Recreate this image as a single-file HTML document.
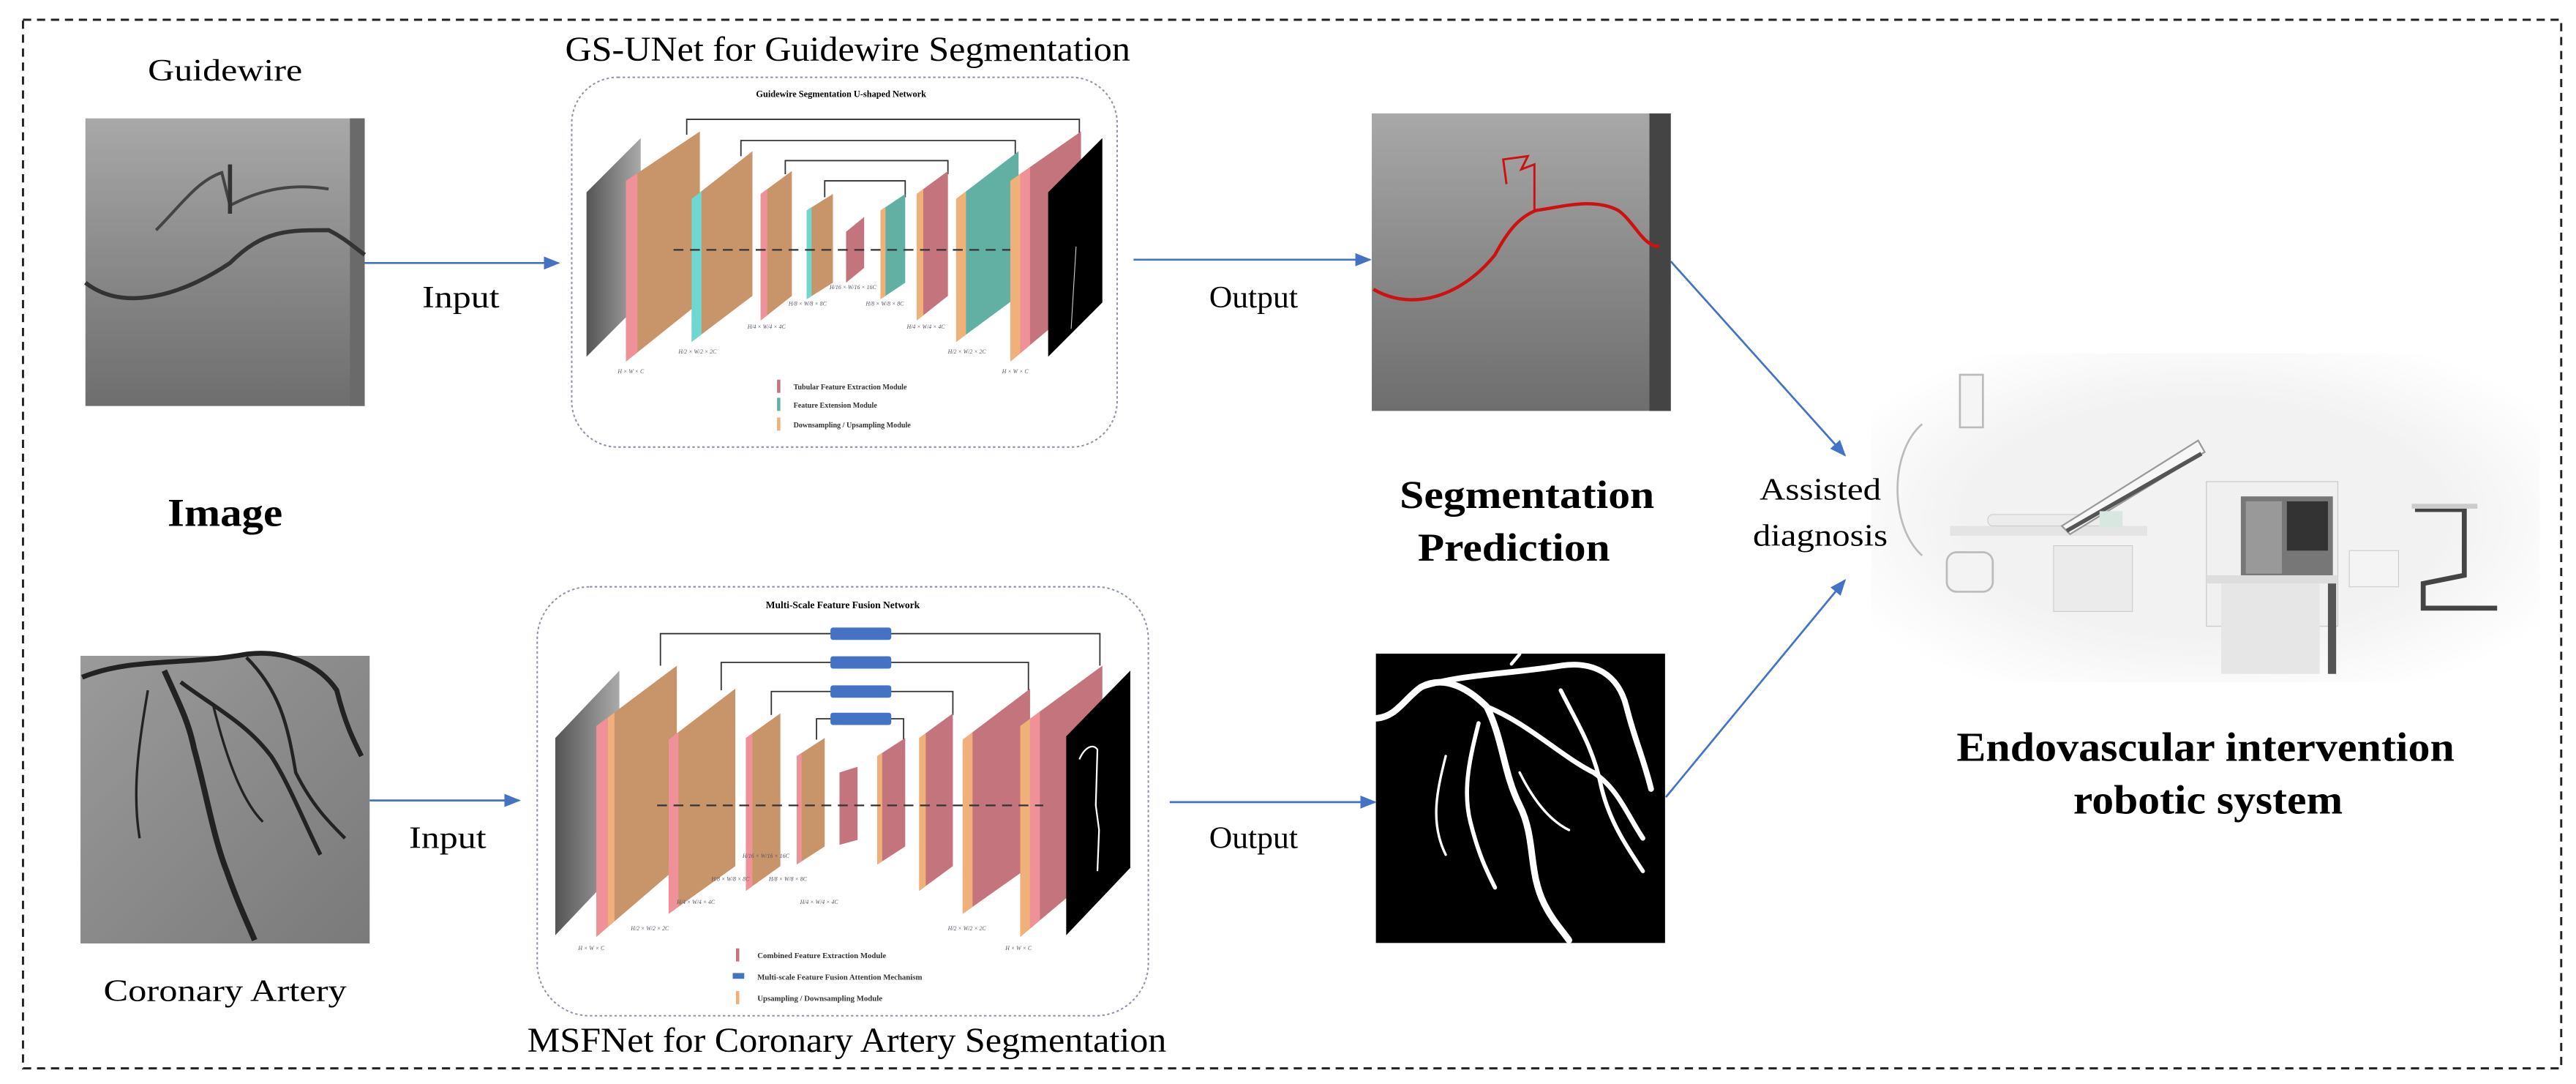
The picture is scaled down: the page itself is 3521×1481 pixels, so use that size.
<!DOCTYPE html>
<html><head><meta charset="utf-8"><style>
html,body{margin:0;padding:0;background:#fff;}
svg{display:block;}
text{font-family:"Liberation Serif",serif;}
</style></head><body>
<svg width="3521" height="1481" viewBox="0 0 1568 659.5" xmlns="http://www.w3.org/2000/svg">
<defs>
<marker id="ar" markerWidth="10" markerHeight="8" refX="9" refY="4" orient="auto" markerUnits="userSpaceOnUse"><path d="M0,0 L10,4 L0,8 z" fill="#4472c4"/></marker>
<linearGradient id="gw" x1="0" y1="0" x2="0" y2="1"><stop offset="0" stop-color="#a8a8a8"/><stop offset="0.5" stop-color="#8a8a8a"/><stop offset="1" stop-color="#6e6e6e"/></linearGradient>
<linearGradient id="ca" x1="0" y1="0" x2="1" y2="1"><stop offset="0" stop-color="#9a9a9a"/><stop offset="1" stop-color="#7a7a7a"/></linearGradient>
<radialGradient id="rb" cx="0.5" cy="0.5" r="0.6"><stop offset="0.6" stop-color="#f2f2f2"/><stop offset="1" stop-color="#ffffff"/></radialGradient>
<linearGradient id="inimg" x1="0" y1="0" x2="1" y2="0"><stop offset="0" stop-color="#555"/><stop offset="1" stop-color="#aaa"/></linearGradient>
</defs>

<rect x="14" y="12" width="1545" height="638" fill="none" stroke="#222" stroke-width="1.3" stroke-dasharray="5,3.5"/>

<text x="90" y="49" font-size="19" textLength="94" lengthAdjust="spacingAndGlyphs">Guidewire</text>
<text x="102" y="320" font-size="24" font-weight="bold" textLength="70" lengthAdjust="spacingAndGlyphs">Image</text>
<text x="63" y="609" font-size="19" textLength="148" lengthAdjust="spacingAndGlyphs">Coronary Artery</text>

<rect x="52" y="72" width="170" height="175" fill="url(#gw)"/>
<rect x="213" y="72" width="9" height="175" fill="#6a6a6a"/>
<path d="M52,172 C75,190 110,180 140,160 C160,140 175,140 200,140 C210,145 215,150 222,155" stroke="#333" stroke-width="2.5" fill="none"/>
<path d="M95,140 C110,125 120,110 135,105 L140,125 C150,120 170,110 200,115" stroke="#444" stroke-width="1.8" fill="none"/>
<path d="M140,100 L140,130" stroke="#333" stroke-width="2.5"/>

<rect x="49" y="399" width="176" height="175" fill="url(#ca)"/>
<g stroke="#222" fill="none">
<path d="M50,412 C80,400 110,405 150,398 C175,395 195,405 205,420 C210,440 215,450 220,460" stroke-width="3"/>
<path d="M100,408 C110,430 115,440 118,455 C125,480 130,510 138,530 C145,550 150,560 155,572" stroke-width="3.5"/>
<path d="M110,415 C130,430 150,440 165,460 C175,475 185,500 195,520" stroke-width="2.5"/>
<path d="M150,400 C170,420 175,440 180,470 C190,490 200,500 210,510" stroke-width="2"/>
<path d="M90,420 C85,450 80,480 85,510" stroke-width="1.5"/>
<path d="M130,430 C140,470 150,490 160,500" stroke-width="1.5"/>
</g>

<g stroke="#4472c4" stroke-width="1.2" fill="none">
<line x1="222" y1="160" x2="340" y2="160" marker-end="url(#ar)"/>
<line x1="225" y1="487" x2="316" y2="487" marker-end="url(#ar)"/>
<line x1="690" y1="158" x2="834" y2="158" marker-end="url(#ar)"/>
<line x1="712" y1="488" x2="837" y2="488" marker-end="url(#ar)"/>
<line x1="1017" y1="159" x2="1123" y2="277" marker-end="url(#ar)"/>
<line x1="1014" y1="485" x2="1123" y2="353" marker-end="url(#ar)"/>
</g>
<text x="257" y="187" font-size="19" textLength="47" lengthAdjust="spacingAndGlyphs">Input</text>
<text x="249" y="516" font-size="19" textLength="47" lengthAdjust="spacingAndGlyphs">Input</text>
<text x="736" y="187" font-size="19" textLength="54" lengthAdjust="spacingAndGlyphs">Output</text>
<text x="736" y="516" font-size="19" textLength="54" lengthAdjust="spacingAndGlyphs">Output</text>

<text x="344" y="37" font-size="21" textLength="344" lengthAdjust="spacingAndGlyphs">GS-UNet for Guidewire Segmentation</text>
<text x="321" y="640" font-size="21" textLength="389" lengthAdjust="spacingAndGlyphs">MSFNet for Coronary Artery Segmentation</text>

<rect x="348" y="47" width="332" height="225" rx="28" fill="none" stroke="#8a93a8" stroke-width="0.9" stroke-dasharray="1.5,1.5"/>
<text x="512" y="59" font-size="5.5" font-weight="bold" text-anchor="middle">Guidewire Segmentation U-shaped Network</text>
<g stroke="#333" stroke-width="0.8" fill="none">
<path d="M418,82 V72.6 H657 V82"/>
<path d="M451,95 V85.5 H618 V95"/>
<path d="M478,106 V97.7 H577 V106"/>
<path d="M502,120 V110 H551 V120"/>
</g>
<polygon points="357,117 390,84 390,184 357,217" fill="url(#inimg)"/>
<polygon points="381,110 426,80 426,184 381,220" fill="#c8946a"/>
<polygon points="381,110 388,105.3 388,214.4 381,220" fill="#ef9199"/>
<polygon points="421,121 458,92 458,180 421,208" fill="#c8946a"/>
<polygon points="421,121 427,116.3 427,203.5 421,208" fill="#6ed8d0"/>
<polygon points="463,118 482,104 482,180 463,195" fill="#c8946a"/>
<polygon points="463,118 467,115 467,191.8 463,195" fill="#ef9199"/>
<polygon points="491,128 507,118 507,172 491,182" fill="#c8946a"/>
<polygon points="491,128 494,126 494,180 491,182" fill="#6ed8d0"/>
<polygon points="515,141 526,132 526,163 515,172" fill="#c4747c"/>
<polygon points="536,128 551,118 551,172 536,182" fill="#62b0a4"/>
<polygon points="536,128 539,126 539,180 536,182" fill="#f0b07a"/>
<polygon points="558,118 577,104 577,180 558,195" fill="#c4747c"/>
<polygon points="558,118 562,115 562,191.8 558,195" fill="#f0b07a"/>
<polygon points="582,121 620,92 620,180 582,208" fill="#62b0a4"/>
<polygon points="582,121 588,116.4 588,203.6 582,208" fill="#f0b07a"/>
<polygon points="615,110 658,80 658,184 615,220" fill="#c4747c"/>
<polygon points="615,110 621,105.8 621,215 615,220" fill="#f0b07a"/>
<polygon points="621,105.8 627,101.6 627,210 621,215" fill="#ef9199"/>
<polygon points="638,117 671,84 671,184 638,217" fill="#000"/>
<path d="M652,200 L655,150" stroke="#ccc" stroke-width="0.5"/>
<line x1="410" y1="152" x2="615" y2="152" stroke="#333" stroke-width="1" stroke-dasharray="6,4"/>
<g font-size="3.5" fill="#556" font-style="italic">
<text x="376" y="227">H × W × C</text>
<text x="413" y="215">H/2 × W/2 × 2C</text>
<text x="455" y="200">H/4 × W/4 × 4C</text>
<text x="480" y="186">H/8 × W/8 × 8C</text>
<text x="505" y="176">H/16 × W/16 × 16C</text>
<text x="527" y="186">H/8 × W/8 × 8C</text>
<text x="552" y="200">H/4 × W/4 × 4C</text>
<text x="577" y="215">H/2 × W/2 × 2C</text>
<text x="610" y="227">H × W × C</text>
</g>
<rect x="473" y="231" width="2" height="8" fill="#c4747c"/>
<rect x="473" y="242" width="2" height="8" fill="#62b0a4"/>
<rect x="473" y="254" width="2" height="8" fill="#f0b07a"/>
<g font-size="4.5" font-weight="bold" fill="#333">
<text x="483" y="237">Tubular Feature Extraction Module</text>
<text x="483" y="248">Feature Extension Module</text>
<text x="483" y="260">Downsampling / Upsampling Module</text>
</g>

<rect x="327" y="357" width="372" height="261" rx="32" fill="none" stroke="#8a93a8" stroke-width="0.9" stroke-dasharray="1.5,1.5"/>
<text x="513" y="370" font-size="6" font-weight="bold" text-anchor="middle">Multi-Scale Feature Fusion Network</text>
<g stroke="#333" stroke-width="0.8" fill="none">
<path d="M402,405 V385.5 H669.5 V405"/>
<path d="M439,420 V403 H626 V420"/>
<path d="M469.5,435 V420.7 H580 V435"/>
<path d="M497,450 V437.3 H550 V450"/>
</g>
<g fill="#4472c4">
<rect x="505.5" y="381.8" width="37" height="7.5" rx="1.5"/>
<rect x="505.5" y="399.3" width="37" height="7.5" rx="1.5"/>
<rect x="505.5" y="417" width="37" height="7.5" rx="1.5"/>
<rect x="505.5" y="433.6" width="37" height="7.5" rx="1.5"/>
</g>
<polygon points="338,449 377,408 377,528 338,569" fill="url(#inimg)"/>
<polygon points="363,441.7 412,405 412,528 363,570" fill="#c8946a"/>
<polygon points="363,441.7 370,436.5 370,564 363,570" fill="#ef9199"/>
<polygon points="370,436.5 374,433.5 374,560.6 370,564" fill="#f0b07a"/>
<polygon points="407,450 447.6,419 447.6,527 407,556" fill="#c8946a"/>
<polygon points="407,450 413,445.4 413,551.7 407,556" fill="#ef9199"/>
<polygon points="454,449 475,434 475,527 454,542" fill="#c8946a"/>
<polygon points="454,449 458,446.1 458,539.1 454,542" fill="#ef9199"/>
<polygon points="485,460 502,449 502,515 485,526" fill="#c8946a"/>
<polygon points="485,460 488,458 488,524 485,526" fill="#ef9199"/>
<polygon points="511,470 522,466.5 522,511 511,514" fill="#c4747c"/>
<polygon points="534,460 551,449 551,515 534,526" fill="#c4747c"/>
<polygon points="534,460 537,458 537,524 534,526" fill="#f0b07a"/>
<polygon points="559.5,449 580,434 580,527 559.5,542" fill="#c4747c"/>
<polygon points="559.5,449 563.5,446.1 563.5,539.1 559.5,542" fill="#f0b07a"/>
<polygon points="586,450 627,419 627,527 586,556" fill="#c4747c"/>
<polygon points="586,450 592,445.4 592,551.7 586,556" fill="#f0b07a"/>
<polygon points="621,441.7 671,405 671,528 621,570" fill="#c4747c"/>
<polygon points="621,441.7 627,437.3 627,565 621,570" fill="#f0b07a"/>
<polygon points="627,437.3 633,432.9 633,560 627,565" fill="#ef9199"/>
<polygon points="649,448 688,408 688,528 649,569" fill="#000"/>
<path d="M657,462 C660,455 665,452 668,456 L667,490 L669,505 L668,530" stroke="#fff" stroke-width="1" fill="none"/>
<line x1="400" y1="490" x2="635" y2="490" stroke="#333" stroke-width="1" stroke-dasharray="6,4"/>
<g font-size="3.5" fill="#556" font-style="italic">
<text x="352" y="578">H × W × C</text>
<text x="384" y="566">H/2 × W/2 × 2C</text>
<text x="412" y="550">H/4 × W/4 × 4C</text>
<text x="433" y="536">H/8 × W/8 × 8C</text>
<text x="452" y="522">H/16 × W/16 × 16C</text>
<text x="468" y="536">H/8 × W/8 × 8C</text>
<text x="487" y="550">H/4 × W/4 × 4C</text>
<text x="577" y="566">H/2 × W/2 × 2C</text>
<text x="612" y="578">H × W × C</text>
</g>
<rect x="448" y="577" width="2" height="8" fill="#c4747c"/>
<rect x="446" y="592" width="7" height="3.5" fill="#4472c4"/>
<rect x="448" y="603" width="2" height="8" fill="#f0b07a"/>
<g font-size="4.8" font-weight="bold" fill="#333">
<text x="461" y="583">Combined Feature Extraction Module</text>
<text x="461" y="596">Multi-scale Feature Fusion Attention Mechanism</text>
<text x="461" y="609">Upsampling / Downsampling Module</text>
</g>

<rect x="835" y="69" width="182" height="181" fill="url(#gw)"/>
<rect x="1004" y="69" width="13" height="181" fill="#444"/>
<path d="M836,176 C860,190 890,180 910,155 C918,140 925,132 935,128 C950,126 970,120 985,128 C995,135 1000,150 1010,150" stroke="#d01010" stroke-width="2" fill="none"/>
<path d="M934,128 L934,100 L926,103 L930,95 L915,97 L917,112" stroke="#d01010" stroke-width="1.3" fill="none"/>
<text x="852" y="309" font-size="24" font-weight="bold" textLength="155" lengthAdjust="spacingAndGlyphs">Segmentation</text>
<text x="863" y="341" font-size="24" font-weight="bold" textLength="117" lengthAdjust="spacingAndGlyphs">Prediction</text>

<rect x="837.5" y="397.7" width="176" height="176" fill="#000"/>
<g stroke="#fff" fill="none" stroke-linecap="round">
<path d="M838,437 C850,436 855,425 865,418 C880,410 895,420 905,430 C915,450 915,470 925,490 C935,510 930,530 940,550 C945,560 950,565 955,572" stroke-width="4"/>
<path d="M865,418 C890,410 920,410 950,405 C970,402 985,410 990,430 C995,450 1000,460 1005,480" stroke-width="3.5"/>
<path d="M905,430 C930,440 950,460 970,470 C985,480 990,495 1000,510" stroke-width="3"/>
<path d="M900,440 C895,460 890,480 895,500 C900,520 905,530 910,540" stroke-width="2.5"/>
<path d="M950,420 C960,440 970,455 975,480 C980,500 990,515 1000,530" stroke-width="2.5"/>
<path d="M880,460 C875,480 870,500 880,520" stroke-width="1.5"/>
<path d="M925,470 C935,490 945,500 955,505" stroke-width="1.5"/>
<path d="M920,404 L925,398" stroke-width="2"/>
</g>

<rect x="1139" y="215" width="407" height="200" fill="url(#rb)"/>
<g fill="none" stroke="#bbb" stroke-width="1.2">
<path d="M1170,258 C1150,275 1150,320 1170,338"/>
<rect x="1193" y="228" width="14" height="32" fill="#f5f5f5"/>
<rect x="1185" y="336" width="28" height="24" rx="6" fill="#f3f3f3"/>
</g>
<rect x="1187" y="320" width="120" height="6" fill="#e4e4e4"/>
<rect x="1210" y="313" width="70" height="7" rx="3" fill="#ececec" stroke="#ccc" stroke-width="0.5"/>
<polygon points="1255,320 1338,268 1342,275 1260,325" fill="#f7f7f7" stroke="#999" stroke-width="1"/>
<path d="M1258,323 L1340,276" stroke="#555" stroke-width="2.5"/>
<rect x="1278" y="311" width="14" height="10" fill="#d8e8e0"/>
<rect x="1250" y="332" width="48" height="40" fill="#ebebeb" stroke="#ccc" stroke-width="0.5"/>
<rect x="1343" y="293" width="80" height="88" fill="#f0f0f0" stroke="#ccc" stroke-width="0.6"/>
<rect x="1364" y="302" width="56" height="50" fill="#777"/>
<rect x="1367" y="305" width="22" height="44" fill="#999"/>
<rect x="1392" y="305" width="25" height="30" fill="#333"/>
<rect x="1343" y="350" width="80" height="5" fill="#ddd"/>
<rect x="1352" y="355" width="60" height="55" fill="#e6e6e6"/>
<rect x="1417" y="355" width="5" height="55" fill="#555"/>
<rect x="1430" y="335" width="30" height="22" fill="#f4f4f4" stroke="#ccc" stroke-width="0.5"/>
<path d="M1470,310 L1500,310 L1500,350 L1475,355 L1475,370 L1520,370" stroke="#444" stroke-width="3" fill="none"/>
<path d="M1468,308 L1508,308" stroke="#ccc" stroke-width="3"/>

<text x="1071" y="304" font-size="19" textLength="74" lengthAdjust="spacingAndGlyphs">Assisted</text>
<text x="1067" y="332" font-size="19" textLength="82" lengthAdjust="spacingAndGlyphs">diagnosis</text>

<text x="1191" y="463" font-size="25" font-weight="bold" textLength="303" lengthAdjust="spacingAndGlyphs">Endovascular intervention</text>
<text x="1262" y="495" font-size="25" font-weight="bold" textLength="164" lengthAdjust="spacingAndGlyphs">robotic system</text>
</svg>
</body></html>
